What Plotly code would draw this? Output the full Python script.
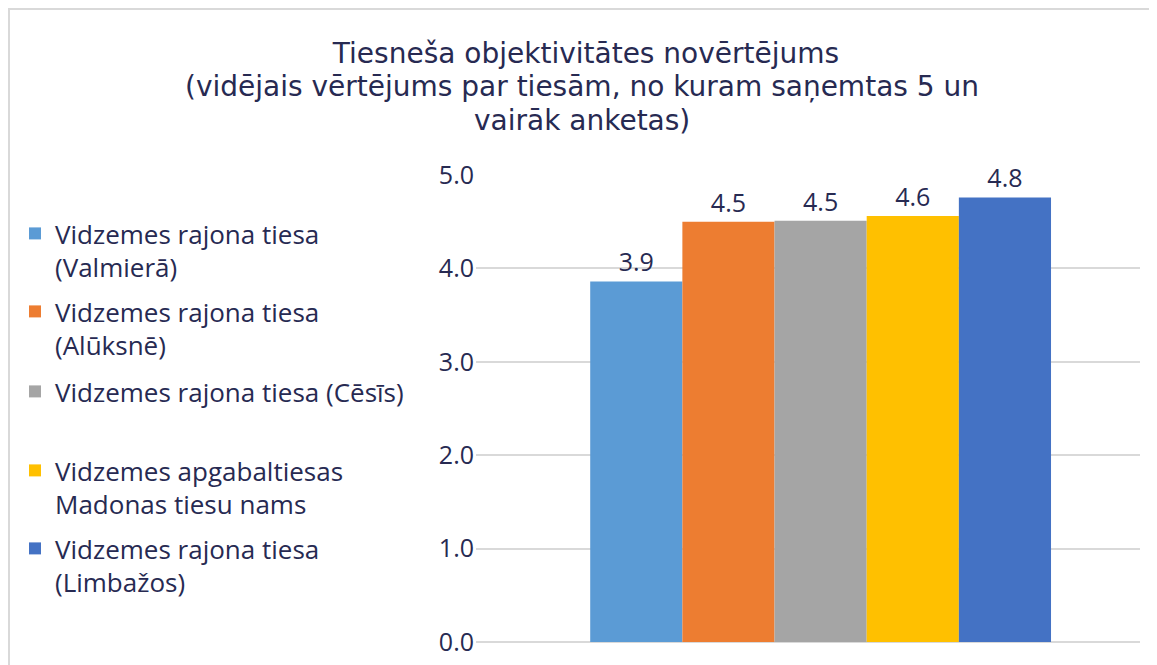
import plotly.graph_objects as go

categories = ["Vidzemes rajona tiesa<br>(Valmierā)",
              "Vidzemes rajona tiesa<br>(Alūksnē)",
              "Vidzemes rajona tiesa (Cēsīs)",
              "Vidzemes apgabaltiesas<br>Madonas tiesu nams",
              "Vidzemes rajona tiesa<br>(Limbažos)"]
values = [3.86, 4.50, 4.51, 4.56, 4.76]
colors = ["#5B9BD5", "#ED7D31", "#A5A5A5", "#FFC000", "#4472C4"]
tick_vals = [0, 1, 2, 3, 4, 5]
tick_text = ["0.0", "1.0", "2.0", "3.0", "4.0", "5.0"]
title_lines = ["Tiesneša objektivitātes novērtējums",
               "(vidējais vērtējums par tiesām, no kuram saņemtas 5 un",
               "vairāk anketas)"]

TXT = "#272a52"
FONT = "Open Sans"
TFONT = "DejaVu Sans"
W, H = 1157, 665

fig = go.Figure()
legend_names = ["legend", "legend2", "legend3", "legend4", "legend5"]
legend_tops = [202, 280, 360, 439, 517]  # px from top of figure
for name, v, c, lg in zip(categories, values, colors, legend_names):
    fig.add_trace(go.Bar(
        x=["Tiesa"], y=[v], name=name, marker_color=c, marker_line_width=0,
        texttemplate="%{y:.1f}", textposition="outside", cliponaxis=False,
        textfont=dict(size=25, color=TXT, family=FONT),
        legend=lg,
    ))

legend_common = dict(
    xref="container", yref="container", x=7 / W, xanchor="left", yanchor="top",
    valign="top", font=dict(size=26, color=TXT, family=FONT),
    bgcolor="rgba(0,0,0,0)", itemwidth=30, tracegroupgap=0,
)
layout_legends = {}
for lg, top in zip(legend_names, legend_tops):
    layout_legends[lg] = dict(legend_common, y=1 - top / H)

# title: first line as layout title, following lines as annotations (tighter line spacing)
title_x = [578, 574, 574]
title_y = [45, 79, 112]  # px from top (vertical centre of each line)
annotations = []
for txt, xp, yp in zip(title_lines[1:], title_x[1:], title_y[1:]):
    annotations.append(dict(
        text=txt, xref="paper", yref="paper",
        x=(xp - 468) / 664, y=(634 - yp) / 467,
        xanchor="center", yanchor="middle", showarrow=False,
        font=dict(size=28, color=TXT, family=TFONT),
    ))

fig.update_layout(
    width=W, height=H,
    paper_bgcolor="white", plot_bgcolor="white",
    margin=dict(l=468, r=25, t=167, b=31),
    barmode="group", bargap=0.306, bargroupgap=0,
    font=dict(family=FONT, color=TXT),
    showlegend=True,
    title=dict(
        text=title_lines[0],
        x=title_x[0] / W, xanchor="center", xref="container",
        y=1 - title_y[0] / H, yanchor="middle", yref="container",
        font=dict(size=28, color=TXT, family=TFONT),
    ),
    annotations=annotations,
    xaxis=dict(showticklabels=False, showgrid=False, zeroline=False,
               range=[-0.519, 0.481], fixedrange=True),
    yaxis=dict(range=[0, 5], tickvals=tick_vals, ticktext=tick_text,
               showgrid=True, gridcolor="#d9d9d9", gridwidth=2,
               zeroline=True, zerolinecolor="#d9d9d9", zerolinewidth=2,
               tickfont=dict(size=25, color=TXT, family=FONT), ticklabelstandoff=1,
               showline=False),
    shapes=[dict(type="rect", xref="paper", yref="paper",
                 x0=(1 - 468) / 664, x1=1.5, y0=-0.5, y1=(634 - 1) / 467,
                 line=dict(color="#d9d9d9", width=2), fillcolor="rgba(0,0,0,0)",
                 layer="below")],
    **layout_legends,
)

fig.write_html("out.html")
